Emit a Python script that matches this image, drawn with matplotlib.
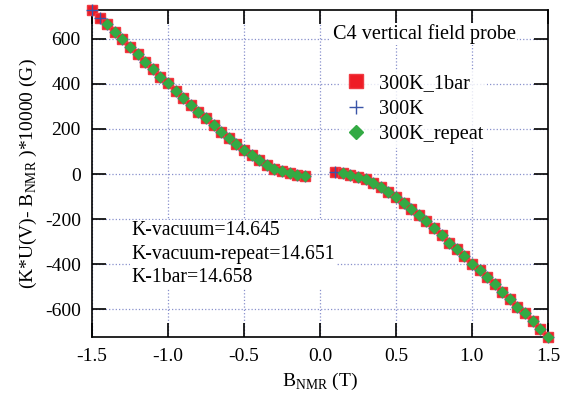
import matplotlib.pyplot as plt
import numpy as np

plt.rcParams['font.family'] = ['Liberation Serif', 'DejaVu Serif']
plt.rcParams['mathtext.fontset'] = 'custom'
plt.rcParams['mathtext.rm'] = 'Liberation Serif'
plt.rcParams['axes.unicode_minus'] = False

# field values (T), 0.05 T steps on both sides of zero
b_neg = [-1.50, -1.45, -1.40, -1.35, -1.30, -1.25, -1.20, -1.15, -1.10, -1.05,
         -1.00, -0.95, -0.90, -0.85, -0.80, -0.75, -0.70, -0.65, -0.60, -0.55,
         -0.50, -0.45, -0.40, -0.35, -0.30, -0.25, -0.20, -0.15, -0.10]
b_pos = [0.10, 0.15, 0.20, 0.25, 0.30, 0.35, 0.40, 0.45, 0.50, 0.55,
         0.60, 0.65, 0.70, 0.75, 0.80, 0.85, 0.90, 0.95, 1.00, 1.05,
         1.10, 1.15, 1.20, 1.25, 1.30, 1.35, 1.40, 1.45, 1.50]

# (K*U - B)*10000 in G
d_neg = [729, 695, 665, 631, 600, 566, 533, 499, 468, 432,
         403, 370, 339, 307, 277, 248, 219, 187, 159, 133,
         108, 83, 61, 41, 24, 12, 3, -3, -8]
d_pos = [8, 3, -3, -12, -24, -39, -58, -79, -102, -127,
         -156, -181, -210, -240, -270, -305, -333, -363, -400, -428,
         -459, -490, -524, -557, -590, -619, -653, -689, -723]

b_1bar = b_neg + b_pos
y_1bar = d_neg + d_pos
b_300k = b_neg + b_pos
y_300k = d_neg + d_pos
b_repeat = b_neg[2:] + b_pos[1:]
y_repeat = d_neg[2:] + d_pos[1:]

fig = plt.figure(figsize=(5.66, 3.96), dpi=100)
ax = fig.add_axes([0.1625, 0.149, 0.8055, 0.826])

ax.plot(b_1bar, y_1bar, 's', color='#ee1c25', ms=7.3, mec='#f03a42', clip_on=False,
        label='300K_1bar', zorder=3)
ax.plot(b_300k, y_300k, '+', color='#3a55a8', ms=8, mew=1.0, clip_on=False,
        label='300K', zorder=4)
ax.plot(b_repeat, y_repeat, 'D', color='#33aa44', ms=5.5, clip_on=False,
        label='300K_repeat', zorder=5)

ax.set_xlim(-1.5, 1.5)
ax.set_ylim(-724, 729)
ax.set_xticks([-1.5, -1.0, -0.5, 0.0, 0.5, 1.0, 1.5])
ax.set_yticks([-600, -400, -200, 0, 200, 400, 600])
ax.set_xticklabels(['-1.5', '-1.0', '-0.5', '0.0', '0.5', '1.0', '1.5'])
ax.tick_params(direction='in', length=10, width=1.2, top=True, right=True,
               labelsize=14, pad=8)
for s in ax.spines.values():
    s.set_linewidth(1.2)
ax.grid(True, color='#8890cc', linestyle=':', linewidth=0.9)
ax.set_axisbelow(True)

ax.set_xlabel(r'B$_{\rm NMR}$ (T)', fontsize=14, labelpad=4)
ax.set_ylabel(r'(K*U(V)- B$_{\rm NMR}$ )*10000 (G)', fontsize=14, labelpad=4)

ax.text(0.085, 622, 'C4 vertical field probe', fontsize=14.6, va='center',
        bbox=dict(facecolor='white', edgecolor='none', pad=1))
ax.legend(loc='upper left', bbox_to_anchor=(0.522, 0.847), frameon=True,
          fancybox=False, edgecolor='none', fontsize=14.6, handletextpad=0.5,
          labelspacing=0.3, borderpad=0.2, markerscale=1.3, handlelength=1.2)

ax.text(-1.24, -356, 'K-vacuum=14.645\nK-vacuum-repeat=14.651\nK-1bar=14.658',
        fontsize=14.2, va='center', linespacing=1.3,
        bbox=dict(facecolor='white', edgecolor='none', pad=1))

fig.savefig('out.png', dpi=100)
